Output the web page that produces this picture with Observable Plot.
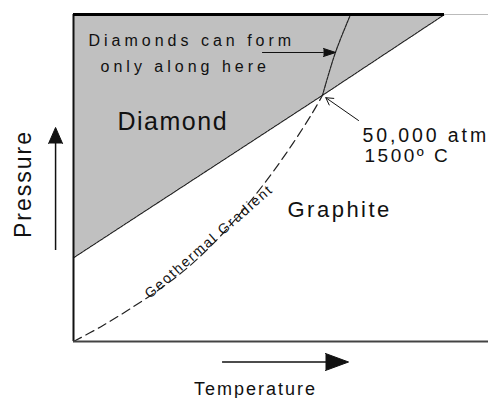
<!DOCTYPE html>
<html>
<head>
<meta charset="utf-8">
<script src="https://cdn.jsdelivr.net/npm/d3@7"></script>
<script src="https://cdn.jsdelivr.net/npm/@observablehq/plot@0.6"></script>
<style>
  html, body { margin: 0; padding: 0; background: white; }
</style>
</head>
<body>
<div id="chart"></div>
<script>
// Axis extents (temperature in °C, pressure in atm)
const T_MAX = 2500;
const P_MAX = 66400;

// Diamond / graphite phase boundary
const boundaryT = [0, 1500, 2235];
const boundaryP = [17000, 50000, 66400];

// Geothermal gradient (dashed)
const geoT = [0, 163, 343, 524, 675, 795, 916, 1066, 1199, 1325, 1440, 1500];
const geoP = [0, 2965, 6680, 10740, 14640, 18320, 22540, 28510, 34320, 40390, 46460, 50000];

// Continuation where diamonds can form
const formT = [1500, 1578, 1669];
const formP = [50000, 58700, 66400];

// Labels
const labelText = ["Diamonds can form", "only along here", "Diamond", "50,000 atm", "1500º C", "Graphite"];
const labelT = [90, 163, 265, 1741, 1753, 1289];
const labelP = [60100, 54700, 42850, 40500, 36450, 25180];

const gradientText = "Geothermal Gradient";
const gradientT = 816, gradientP = 20300;

const xTitle = "Temperature", yTitle = "Pressure";
const xTitleT = 1096, xTitleP = -10965;
const yTitleT = -259, yTitleP = 31980;

// Annotation arrows (data units)
const xArrow = {T1: 898, T2: 1530, P: -4163};
const yArrow = {T: -108, P1: 18478, P2: 40815};
const formArrow = {T1: 1139, T2: 1510, P: 58684};
const pointArrow = {T1: 1717, P1: 44876, T2: 1520, P2: 49500};

// Filled arrow heads (triangle vertices, data units)
const headId = ["x","x","x","y","y","y","f","f","f"];
const headT  = [1518, 1657, 1518, -150, -108, -66, 1506, 1580, 1506];
const headP  = [-2437, -4163, -5889, 40206, 43455, 40206, 59500, 58684, 57870];

// Styles
const fontSize = {"Diamonds can form": 16, "only along here": 16, "Diamond": 25, "50,000 atm": 19.5, "1500º C": 19, "Graphite": 22};
const spacing = {"Diamonds can form": 4, "only along here": 4, "Diamond": 1.5, "50,000 atm": 2.9, "1500º C": 2.5, "Graphite": 2.5,
                 "Geothermal Gradient": 1.8, "Temperature": 2, "Pressure": 2};

const boundary = boundaryT.map((T, i) => ({T, P: boundaryP[i]}));
const geo = geoT.map((T, i) => ({T, P: geoP[i]}));
const form = formT.map((T, i) => ({T, P: formP[i]}));
const labels = labelText.map((text, i) => ({text, T: labelT[i], P: labelP[i], size: fontSize[text]}));
const heads = headId.map((id, i) => ({id, T: headT[i], P: headP[i]}));
const ink = "#111";

const chart = Plot.plot({
  width: 488,
  height: 398,
  marginLeft: 73,
  marginRight: 0,
  marginTop: 14,
  marginBottom: 57,
  x: {domain: [0, T_MAX], axis: null},
  y: {domain: [0, P_MAX], axis: null},
  style: {fontFamily: "'Liberation Sans', Arial, sans-serif", background: "white", color: ink},
  marks: [
    Plot.area(boundary, {x1: "T", y1: "P", y2: () => P_MAX, fill: "#c0c0c0"}),
    Plot.line(boundary, {x: "T", y: "P", stroke: "#222", strokeWidth: 1.2, strokeDasharray: "3,1"}),
    Plot.line(geo, {x: "T", y: "P", stroke: "#222", strokeWidth: 1.2, strokeDasharray: "9,5", curve: "catmull-rom"}),
    Plot.line(form, {x: "T", y: "P", stroke: "#222", strokeWidth: 1.2, strokeDasharray: "3,1", curve: "catmull-rom"}),
    // frame
    Plot.ruleX([0], {y1: 0, y2: P_MAX, stroke: "#111", strokeWidth: 2}),
    Plot.ruleY([0], {x1: 0, x2: T_MAX, stroke: "#444", strokeWidth: 2}),
    Plot.ruleY([P_MAX], {x1: boundaryT[2], x2: T_MAX, stroke: "#bbb", strokeWidth: 1}),
    Plot.ruleY([P_MAX], {x1: 0, x2: boundaryT[2], stroke: "#000", strokeWidth: 3}),
    // labels
    Plot.text(labels, {x: "T", y: "P", text: "text", fontSize: "size", textAnchor: "start", lineAnchor: "bottom", fill: ink}),
    Plot.text([gradientText], {x: () => gradientT, y: () => gradientP, text: d => d, rotate: -41, fontSize: 14, textAnchor: "middle", fill: ink}),
    Plot.text([xTitle], {x: () => xTitleT, y: () => xTitleP, text: d => d, fontSize: 18, textAnchor: "middle", lineAnchor: "bottom", fill: ink}),
    Plot.text([yTitle], {x: () => yTitleT, y: () => yTitleP, text: d => d, fontSize: 23, rotate: -90, textAnchor: "middle", lineAnchor: "bottom", fill: ink}),
    // arrows
    Plot.ruleY([xArrow.P], {x1: xArrow.T1, x2: xArrow.T2, stroke: ink, strokeWidth: 1.5}),
    Plot.ruleX([yArrow.T], {y1: yArrow.P1, y2: yArrow.P2, stroke: ink, strokeWidth: 1.5}),
    Plot.ruleY([formArrow.P], {x1: formArrow.T1, x2: formArrow.T2, stroke: ink, strokeWidth: 1.2}),
    Plot.arrow([pointArrow], {x1: "T1", y1: "P1", x2: "T2", y2: "P2", stroke: ink, strokeWidth: 1, headLength: 12}),
    Plot.line(heads, {x: "T", y: "P", z: "id", fill: ink, stroke: ink, strokeWidth: 1})
  ]
});

chart.querySelectorAll("text").forEach(t => {
  const s = spacing[t.textContent];
  if (s != null) t.style.letterSpacing = s + "px";
});

document.getElementById("chart").append(chart);
</script>
</body>
</html>
